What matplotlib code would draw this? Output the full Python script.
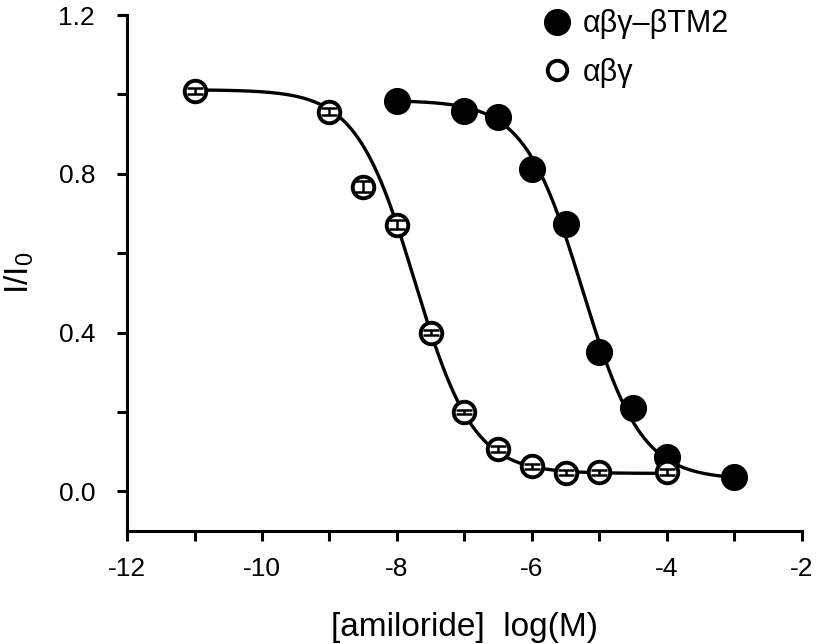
import numpy as np
import matplotlib
matplotlib.use("Agg")
import matplotlib.pyplot as plt
from matplotlib.lines import Line2D

plt.rcParams['font.family'] = ['Liberation Sans', 'DejaVu Sans']

# Data
x_wt = [-11, -9, -8.5, -8, -7.5, -7, -6.5, -6, -5.5, -5, -4]
y_wt = [1.008, 0.957, 0.768, 0.672, 0.400, 0.200, 0.106, 0.063, 0.047, 0.048, 0.049]
e_wt = [0.008, 0.008, 0.014, 0.012, 0.006, 0.006, 0.008, 0.006, 0.006, 0.006, 0.008]

x_tm = [-8, -7, -6.5, -6, -5.5, -5, -4.5, -4, -3]
y_tm = [0.983, 0.958, 0.943, 0.813, 0.673, 0.352, 0.211, 0.086, 0.035]

# Hill fit parameters (top, bottom, logIC50, slope)
fit_wt = (1.012, 0.045, -7.735, 1.0)
fit_tm = (0.985, 0.030, -5.25, 1.0)

label_tm = "αβγ–βTM2"
label_wt = "αβγ"


def hill(x, p):
    top, bot, c, n = p
    return bot + (top - bot) / (1 + 10 ** (n * (x - c)))


fig = plt.figure(figsize=(8.17, 6.44), dpi=100)
ax = fig.add_axes([0.1555, 0.1755, 0.826, 0.801])

xs = np.linspace(min(x_wt), max(x_wt), 400)
ax.plot(xs, hill(xs, fit_wt), color='black', lw=2.4, zorder=2)
xs2 = np.linspace(min(x_tm), max(x_tm), 400)
ax.plot(xs2, hill(xs2, fit_tm), color='black', lw=2.4, zorder=2)

ax.plot(x_tm, y_tm, 'o', ms=17.5, mfc='black', mec='black', mew=2, zorder=3)
ax.plot(x_wt, y_wt, 'o', ms=15.5, mfc='white', mec='black', mew=2.8, zorder=4)
ax.errorbar(x_wt, y_wt, yerr=e_wt, fmt='none', ecolor='black', elinewidth=1.8,
            capsize=6, capthick=1.8, zorder=5)

ax.set_xlim(-12, -2)
ax.set_ylim(-0.1, 1.2)
ax.set_xticks(np.arange(-12, -1, 2))
ax.set_xticks(np.arange(-11, -2, 2), minor=True)
ax.set_yticks([0.0, 0.4, 0.8, 1.2])
ax.set_yticklabels(['0.0', '0.4', '0.8', '1.2'])
ax.set_yticks([0.2, 0.6, 1.0], minor=True)
ax.set_xticklabels(['-12', '-10', '-8', '-6', '-4', '-2'])

for s in ['top', 'right']:
    ax.spines[s].set_visible(False)
for s in ['left', 'bottom']:
    ax.spines[s].set_linewidth(2.2)

ax.tick_params(which='both', direction='out', width=2.2, labelsize=19)
ax.tick_params(which='both', length=7)
ax.tick_params(axis='y', pad=16)
ax.tick_params(axis='x', pad=12)

ax.set_xlabel('[amiloride]  log(M)', fontsize=24, labelpad=22)
ax.set_ylabel('I/I$_\\mathregular{0}$', fontsize=24, labelpad=16)

handles = [
    Line2D([], [], marker='o', ls='none', ms=17.5, mfc='black', mec='black', mew=2),
    Line2D([], [], marker='o', ls='none', ms=14, mfc='white', mec='black', mew=2.8),
]
ax.legend(handles, [label_tm, label_wt], loc='upper left', bbox_to_anchor=(0.594, 1.035),
          frameon=False, fontsize=22, handletextpad=0.3, labelspacing=0.6,
          handlelength=1.1, borderaxespad=0)

fig.savefig('out.png', dpi=100)
